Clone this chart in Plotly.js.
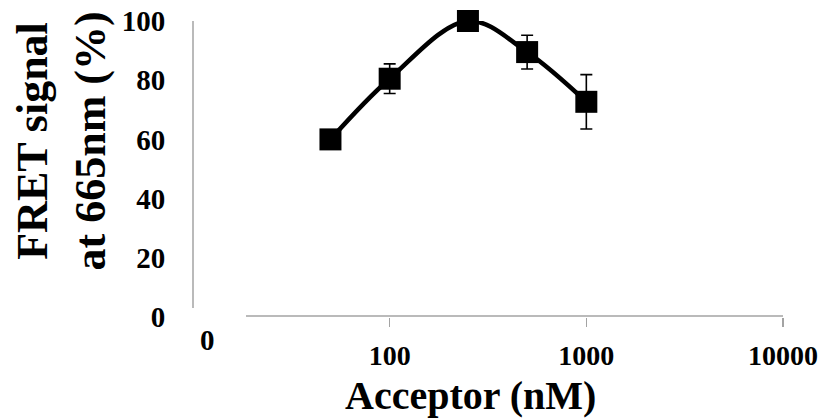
<!DOCTYPE html>
<html>
<head>
<meta charset="utf-8">
<script src="https://cdn.plot.ly/plotly-3.0.1.min.js"></script>
<style>html,body{margin:0;padding:0;background:#fff;}#chart{width:830px;height:419px;}</style>
</head>
<body>
<div id="chart"></div>
<script>
// Data
const acceptorNM = [50, 100, 250, 500, 1000];
const fretSignal = [60, 80.5, 100, 89.5, 72.7];
const fretError = [0, 5, 0, 5.7, 9.2];

const yTickVals = [0, 20, 40, 60, 80, 100];
const yTickMarks = [20, 40, 60, 80, 100];
const xTickVals = [100, 1000, 10000];
const xTickText = ['100', '1000', '10000'];

const FONT = 'Liberation Serif, Times New Roman, serif';
const AXIS_GRAY = '#a3a3a3';

const trace = {
  x: acceptorNM,
  y: fretSignal,
  type: 'scatter',
  mode: 'lines+markers',
  line: {color: '#000', width: 4.5, shape: 'spline', smoothing: 1},
  marker: {symbol: 'square', size: 22, color: '#000'},
  error_y: {type: 'data', array: fretError, visible: true, color: '#000', thickness: 1.6, width: 6},
  cliponaxis: false,
  showlegend: false
};

const layout = {
  width: 830,
  height: 419,
  margin: {l: 193, r: 47, t: 21, b: 102},
  paper_bgcolor: '#fff',
  plot_bgcolor: '#fff',
  showlegend: false,
  xaxis: {
    type: 'log',
    range: [1, 4],
    showgrid: false,
    zeroline: false,
    showline: false,
    tickvals: xTickVals,
    ticktext: xTickText,
    ticks: 'outside',
    ticklen: 9,
    tickwidth: 1.5,
    tickcolor: AXIS_GRAY,
    ticklabelstandoff: 4,
    tickfont: {family: FONT, size: 28, color: '#000', weight: 700}
  },
  yaxis: {
    range: [0, 100],
    showgrid: false,
    zeroline: false,
    showline: false,
    tickvals: yTickVals,
    ticks: 'outside',
    ticklen: 9,
    tickcolor: 'rgba(0,0,0,0)',
    ticklabelstandoff: 12,
    tickfont: {family: FONT, size: 29, color: '#000', weight: 700}
  },
  yaxis2: {
    overlaying: 'y',
    anchor: 'x',
    range: [0, 100],
    showgrid: false,
    zeroline: false,
    showline: false,
    tickvals: yTickMarks,
    ticks: 'outside',
    ticklen: 9,
    tickwidth: 1.5,
    tickcolor: AXIS_GRAY,
    showticklabels: false
  },
  shapes: [
    {type: 'line', xref: 'paper', yref: 'y', x0: 0, x1: 0, y0: 3, y1: 100,
     line: {color: AXIS_GRAY, width: 1.5}},
    {type: 'line', xref: 'paper', yref: 'paper', x0: 0.0898, x1: 1, y0: 0.003, y1: 0.003,
     line: {color: AXIS_GRAY, width: 1.5}}
  ],
  annotations: [
    {text: '0', xref: 'paper', yref: 'paper', x: 0.0254, y: -0.0777,
     xanchor: 'center', yanchor: 'middle', showarrow: false,
     font: {family: FONT, size: 29, color: '#000', weight: 700}},
    {text: 'Acceptor (nM)', xref: 'paper', yref: 'paper', x: 0.4695, y: -0.2665,
     xanchor: 'center', yanchor: 'middle', showarrow: false,
     font: {family: FONT, size: 40, color: '#000', weight: 700}},
    {text: 'FRET signal<br>at 665nm (%)', xref: 'paper', yref: 'paper', x: -0.2229, y: 0.5946,
     xanchor: 'center', yanchor: 'middle', showarrow: false, textangle: -90,
     font: {family: FONT, size: 44, color: '#000', weight: 700}}
  ]
};

Plotly.newPlot('chart', [trace], layout, {displayModeBar: false, staticPlot: true});
</script>
</body>
</html>
